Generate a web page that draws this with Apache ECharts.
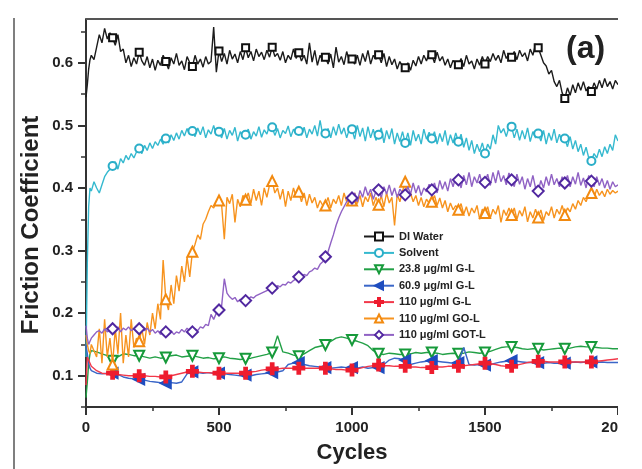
<!DOCTYPE html>
<html>
<head>
<meta charset="utf-8">
<script src="https://cdn.jsdelivr.net/npm/echarts@6/dist/echarts.min.js"></script>
<style>
html,body{margin:0;padding:0;background:#fff;}
#chart{width:642px;height:469px;}
</style>
</head>
<body>
<div id="chart"></div>
<script>
// ---- Data ----
const seriesNames = ['DI Water', 'Solvent', '23.8 μg/ml G-L', '60.9 μg/ml G-L', '110 μg/ml G-L', '110 μg/ml GO-L', '110 μg/ml GOT-L'];
const xTickValues = [0, 500, 1000, 1500, 2000];
const yTickLabels = [0.1, 0.2, 0.3, 0.4, 0.5, 0.6];
const yMinorTicks = [0.05, 0.15, 0.25, 0.35, 0.45, 0.55, 0.65];

// sampling grids (cycles): fine = 0,5,10,15,20,30,...,2000 ; coarse = 0,5,10,15,20,40,...,2000
const cyclesFine = [0, 5, 10, 15];
for (let c = 20; c <= 2000; c += 10) cyclesFine.push(c);
const cyclesCoarse = [0, 5, 10, 15];
for (let c = 20; c <= 2000; c += 20) cyclesCoarse.push(c);

const diWater = [
0.545,0.565,0.59,0.605,0.612,0.605,0.625,0.645,0.632,0.655,0.638,0.648,
0.640,0.628,0.645,0.618,0.622,0.600,0.612,0.594,0.608,0.598,
0.617,0.603,0.596,0.610,0.592,0.606,0.588,0.604,0.596,0.612,
0.602,0.590,0.608,0.598,0.615,0.596,0.603,0.589,0.610,0.600,
0.594,0.612,0.598,0.606,0.593,0.610,0.598,0.602,0.657,0.585,
0.619,0.602,0.615,0.598,0.620,0.606,0.614,0.600,0.618,0.605,
0.624,0.608,0.618,0.603,0.622,0.610,0.617,0.605,0.620,0.609,
0.625,0.610,0.615,0.604,0.618,0.600,0.612,0.605,0.622,0.607,
0.616,0.603,0.612,0.598,0.632,0.601,0.620,0.596,0.612,0.604,
0.609,0.598,0.614,0.592,0.625,0.601,0.610,0.597,0.618,0.603,
0.606,0.598,0.612,0.596,0.615,0.602,0.620,0.598,0.612,0.606,
0.613,0.600,0.615,0.594,0.610,0.597,0.606,0.590,0.602,0.594,
0.592,0.600,0.588,0.604,0.595,0.610,0.598,0.612,0.603,0.616,
0.613,0.600,0.617,0.603,0.610,0.596,0.606,0.592,0.604,0.598,
0.597,0.607,0.594,0.612,0.598,0.603,0.590,0.606,0.596,0.610,
0.598,0.610,0.602,0.615,0.604,0.612,0.600,0.620,0.607,0.614,
0.609,0.618,0.605,0.620,0.610,0.616,0.603,0.622,0.612,0.630,
0.624,0.612,0.600,0.595,0.582,0.588,0.570,0.562,0.572,0.552,
0.543,0.560,0.548,0.565,0.552,0.568,0.556,0.570,0.555,0.562,
0.554,0.568,0.558,0.572,0.560,0.575,0.562,0.570,0.558,0.572,
0.565];

const solvent = [
0.13,0.28,0.37,0.40,0.395,0.41,0.40,0.392,0.405,0.418,0.425,0.43,
0.435,0.442,0.430,0.447,0.440,0.452,0.445,0.455,0.448,0.458,
0.463,0.455,0.468,0.460,0.472,0.463,0.474,0.468,0.478,0.470,
0.479,0.472,0.485,0.476,0.488,0.478,0.492,0.483,0.495,0.485,
0.491,0.482,0.496,0.485,0.498,0.480,0.493,0.486,0.500,0.484,
0.490,0.480,0.495,0.478,0.492,0.484,0.497,0.475,0.490,0.482,
0.485,0.494,0.478,0.490,0.483,0.498,0.481,0.493,0.486,0.500,
0.497,0.484,0.495,0.480,0.492,0.487,0.499,0.482,0.494,0.486,
0.491,0.484,0.497,0.480,0.494,0.486,0.500,0.483,0.508,0.485,
0.487,0.495,0.480,0.498,0.484,0.502,0.486,0.496,0.480,0.494,
0.494,0.478,0.500,0.482,0.496,0.475,0.498,0.480,0.494,0.476,
0.485,0.496,0.472,0.492,0.478,0.495,0.470,0.488,0.474,0.490,
0.472,0.488,0.468,0.492,0.475,0.486,0.470,0.494,0.478,0.489,
0.479,0.490,0.470,0.487,0.474,0.492,0.468,0.485,0.472,0.488,
0.474,0.486,0.465,0.480,0.460,0.476,0.455,0.470,0.458,0.472,
0.455,0.470,0.462,0.485,0.470,0.500,0.488,0.495,0.482,0.497,
0.498,0.480,0.494,0.476,0.492,0.478,0.496,0.474,0.490,0.480,
0.487,0.475,0.492,0.470,0.488,0.476,0.494,0.472,0.486,0.474,
0.479,0.466,0.482,0.462,0.476,0.458,0.470,0.452,0.465,0.448,
0.443,0.455,0.448,0.462,0.450,0.466,0.455,0.470,0.460,0.485,
0.475];

const gl23 = [
0.065,0.09,0.12,0.135,0.14,0.138,0.135,0.132,
0.124,0.130,0.135,0.134,0.132,
0.132,0.130,0.128,0.130,0.128,
0.129,0.132,0.133,0.130,0.131,
0.132,0.130,0.128,0.129,0.127,
0.128,0.130,0.128,0.127,0.126,
0.127,0.128,0.130,0.132,0.134,
0.137,0.164,0.138,0.136,0.133,
0.131,0.135,0.140,0.145,0.147,
0.149,0.155,0.160,0.162,0.160,
0.157,0.155,0.152,0.148,0.140,
0.135,0.134,0.136,0.135,0.134,
0.134,0.135,0.137,0.136,0.137,
0.137,0.136,0.134,0.135,0.136,
0.135,0.136,0.138,0.137,0.136,
0.137,0.139,0.142,0.145,0.146,
0.146,0.145,0.143,0.142,0.143,
0.143,0.141,0.142,0.143,0.144,
0.143,0.144,0.146,0.147,0.146,
0.146,0.145,0.144,0.144,0.143,
0.143];

const gl60 = [
0.15,0.135,0.12,0.112,0.108,0.104,0.103,0.104,
0.104,0.102,0.098,0.096,0.095,
0.094,0.093,0.091,0.090,0.089,
0.088,0.089,0.088,0.090,0.103,
0.106,0.105,0.104,0.105,0.104,
0.104,0.103,0.102,0.101,0.100,
0.101,0.100,0.102,0.103,0.104,
0.105,0.106,0.108,0.118,0.120,
0.121,0.118,0.116,0.115,0.114,
0.113,0.112,0.113,0.114,0.113,
0.113,0.112,0.114,0.112,0.113,
0.113,0.118,0.125,0.128,0.127,
0.125,0.118,0.120,0.122,0.123,
0.124,0.123,0.122,0.121,0.120,
0.121,0.145,0.118,0.117,0.118,
0.117,0.118,0.120,0.122,0.123,
0.124,0.123,0.122,0.121,0.121,
0.121,0.120,0.121,0.120,0.120,
0.120,0.121,0.122,0.121,0.122,
0.122,0.121,0.122,0.121,0.121,
0.121];

const gl110 = [
0.085,0.13,0.125,0.12,0.115,0.108,0.104,0.103,
0.104,0.102,0.101,0.100,0.100,
0.100,0.100,0.099,0.099,0.098,
0.098,0.100,0.102,0.104,0.106,
0.107,0.106,0.105,0.105,0.104,
0.104,0.104,0.104,0.104,0.104,
0.104,0.106,0.107,0.109,0.110,
0.111,0.111,0.112,0.112,0.112,
0.112,0.112,0.112,0.112,0.112,
0.112,0.111,0.110,0.110,0.109,
0.109,0.111,0.113,0.115,0.116,
0.117,0.116,0.116,0.115,0.115,
0.115,0.114,0.114,0.113,0.113,
0.113,0.114,0.114,0.115,0.115,
0.115,0.116,0.117,0.118,0.119,
0.120,0.119,0.118,0.116,0.115,
0.115,0.117,0.119,0.121,0.122,
0.123,0.123,0.122,0.122,0.122,
0.122,0.122,0.122,0.122,0.122,
0.122,0.123,0.124,0.125,0.126,
0.127];

const gol110 = [
0.165,0.15,0.14,0.135,0.15,0.14,0.13,0.175,0.12,0.19,0.13,0.16,
0.118,0.175,0.135,0.20,0.12,0.165,0.13,0.19,0.145,0.16,
0.155,0.175,0.150,0.185,0.165,0.20,0.175,0.215,0.190,0.285,
0.222,0.205,0.245,0.215,0.260,0.235,0.275,0.250,0.290,0.258,
0.298,0.31,0.325,0.318,0.342,0.350,0.362,0.372,0.368,0.378,
0.380,0.372,0.318,0.385,0.375,0.390,0.345,0.382,0.370,0.388,
0.381,0.392,0.375,0.398,0.380,0.395,0.372,0.400,0.385,0.405,
0.411,0.392,0.400,0.382,0.398,0.370,0.395,0.380,0.400,0.386,
0.394,0.378,0.392,0.372,0.390,0.376,0.385,0.368,0.380,0.372,
0.372,0.385,0.368,0.382,0.375,0.388,0.372,0.392,0.378,0.386,
0.380,0.392,0.375,0.388,0.370,0.386,0.378,0.392,0.372,0.385,
0.373,0.388,0.370,0.392,0.376,0.385,0.340,0.390,0.378,0.395,
0.410,0.385,0.392,0.378,0.388,0.372,0.385,0.370,0.382,0.376,
0.378,0.388,0.372,0.384,0.368,0.380,0.362,0.376,0.365,0.372,
0.365,0.375,0.358,0.370,0.355,0.368,0.360,0.372,0.350,0.366,
0.360,0.370,0.352,0.366,0.358,0.372,0.345,0.365,0.356,0.368,
0.357,0.368,0.350,0.364,0.355,0.370,0.346,0.362,0.352,0.366,
0.353,0.365,0.348,0.362,0.356,0.370,0.352,0.366,0.358,0.372,
0.357,0.368,0.362,0.375,0.366,0.380,0.372,0.385,0.378,0.390,
0.392,0.385,0.398,0.388,0.395,0.386,0.398,0.390,0.396,0.392,
0.395];

const gotl110 = [
0.18,0.16,0.15,0.155,0.16,0.165,0.17,0.172,0.168,0.175,0.17,0.173,
0.175,0.172,0.178,0.170,0.176,0.173,0.178,0.172,0.175,0.176,
0.175,0.178,0.172,0.176,0.170,0.174,0.168,0.172,0.166,0.170,
0.170,0.168,0.172,0.166,0.170,0.168,0.174,0.170,0.176,0.172,
0.170,0.175,0.172,0.178,0.176,0.182,0.180,0.198,0.190,0.200,
0.205,0.212,0.255,0.232,0.226,0.222,0.225,0.218,0.222,0.220,
0.220,0.222,0.226,0.224,0.228,0.230,0.232,0.234,0.236,0.238,
0.240,0.238,0.244,0.242,0.246,0.245,0.250,0.248,0.252,0.255,
0.258,0.256,0.262,0.260,0.266,0.268,0.272,0.270,0.278,0.282,
0.290,0.298,0.312,0.325,0.340,0.352,0.362,0.370,0.378,0.382,
0.384,0.392,0.378,0.396,0.385,0.402,0.388,0.398,0.382,0.395,
0.397,0.385,0.402,0.390,0.405,0.388,0.400,0.385,0.398,0.392,
0.389,0.402,0.390,0.408,0.392,0.404,0.388,0.400,0.394,0.406,
0.397,0.408,0.392,0.412,0.398,0.410,0.395,0.415,0.402,0.418,
0.413,0.400,0.420,0.405,0.425,0.402,0.418,0.408,0.422,0.405,
0.409,0.422,0.404,0.425,0.408,0.428,0.410,0.420,0.405,0.424,
0.413,0.402,0.422,0.406,0.418,0.398,0.415,0.402,0.420,0.400,
0.395,0.412,0.400,0.418,0.404,0.422,0.405,0.415,0.402,0.418,
0.408,0.420,0.402,0.418,0.406,0.425,0.404,0.416,0.400,0.420,
0.411,0.402,0.418,0.404,0.415,0.400,0.412,0.398,0.410,0.402,
0.405];

// ---- Build chart ----
function pairs(xs, ys) { return ys.map((y, i) => [xs[i], y]); }
function markerSize(sz) {
  return function (val) {
    const c = val[0];
    return (c > 0 && c < 2000 && c % 100 === 0) ? sz : 0;
  };
}
const FONT = '"Liberation Sans", Arial, sans-serif';

const specs = [
  { data: pairs(cyclesFine, diWater), color: '#1c1c1c', mcolor: '#111', symbol: 'emptyRect', size: 7, rotate: 0 },
  { data: pairs(cyclesFine, solvent), color: '#35b9cf', mcolor: '#2aaec8', symbol: 'emptyCircle', size: 8, rotate: 0 },
  { data: pairs(cyclesCoarse, gl23), color: '#22a046', mcolor: '#169a3a', symbol: 'emptyTriangle', size: 10, rotate: 180 },
  { data: pairs(cyclesCoarse, gl60), color: '#3a66c8', mcolor: '#1f4dbf', symbol: 'triangle', size: 10, rotate: 90 },
  { data: pairs(cyclesCoarse, gl110), color: '#f2384a', mcolor: '#ee1c2e', symbol: 'path://M3,0H5V3H8V5H5V8H3V5H0V3H3Z', size: 11, rotate: 0 },
  { data: pairs(cyclesFine, gol110), color: '#f7931e', mcolor: '#f28a10', symbol: 'emptyTriangle', size: 10, rotate: 0 },
  { data: pairs(cyclesFine, gotl110), color: '#9062c4', mcolor: '#5128a0', symbol: 'emptyDiamond', size: 11, rotate: 0 }
];

const series = specs.map((s, i) => ({
  name: seriesNames[i],
  type: 'line',
  data: s.data,
  showSymbol: true,
  showAllSymbol: true,
  symbol: s.symbol,
  symbolRotate: s.rotate,
  symbolSize: markerSize(s.size),
  lineStyle: { color: s.color, width: 1.4 },
  itemStyle: { color: s.mcolor, borderColor: s.mcolor, borderWidth: 2 },
  emphasis: { disabled: true },
  z: 2 + i
}));

const chart = echarts.init(document.getElementById('chart'), null, { renderer: 'canvas' });
chart.setOption({
  animation: false,
  backgroundColor: '#ffffff',
  grid: { left: 86, top: 19, right: 24, bottom: 56, containLabel: false },
  legend: {
    orient: 'vertical',
    left: 358,
    top: 226,
    itemWidth: 30,
    itemHeight: 10,
    itemGap: 5.4,
    data: seriesNames,
    textStyle: { fontFamily: FONT, fontWeight: 'bold', fontSize: 11, color: '#222' }
  },
  xAxis: {
    type: 'value',
    min: 0, max: 2000, interval: 500,
    name: 'Cycles',
    nameLocation: 'middle',
    nameGap: 35,
    nameTextStyle: { fontFamily: FONT, fontWeight: 'bold', fontSize: 22, color: '#222' },
    axisLine: { show: true, onZero: false, lineStyle: { color: '#333', width: 2 } },
    axisTick: { show: true, inside: false, length: 8, lineStyle: { color: '#333', width: 2 } },
    minorTick: { show: true, splitNumber: 2, length: 4, lineStyle: { color: '#333', width: 1.5 } },
    axisLabel: { margin: 13, fontFamily: FONT, fontWeight: 'bold', fontSize: 15, color: '#222',
      customValues: xTickValues, formatter: v => String(v) },
    splitLine: { show: false }
  },
  yAxis: [{
    type: 'value',
    min: 0.05, max: 0.67,
    axisLine: { show: true, onZero: false, lineStyle: { color: '#333', width: 2 } },
    axisTick: { show: true, inside: false, length: 8, lineStyle: { color: '#333', width: 2 }, customValues: yTickLabels },
    axisLabel: { margin: 13, fontFamily: FONT, fontWeight: 'bold', fontSize: 15, color: '#222',
      customValues: yTickLabels, formatter: v => v.toFixed(1) },
    splitLine: { show: false }
  }, {
    type: 'value',
    position: 'left',
    min: 0.05, max: 0.67,
    axisLine: { show: false },
    axisTick: { show: true, inside: false, length: 5, lineStyle: { color: '#333', width: 1.5 }, customValues: yMinorTicks },
    axisLabel: { show: false, customValues: yMinorTicks },
    splitLine: { show: false }
  }],
  graphic: [
    { type: 'line', shape: { x1: 86, y1: 19, x2: 620, y2: 19 }, style: { stroke: '#555', lineWidth: 2 }, z: 50 },
    { type: 'line', shape: { x1: 14, y1: 18, x2: 14, y2: 469 }, style: { stroke: '#555', lineWidth: 1.5 }, z: 50 },
    { type: 'rect', shape: { x: 618, y: 0, width: 30, height: 469 }, style: { fill: '#ffffff' }, z: 100 },
    { type: 'text', left: 566, top: 33, style: { text: '(a)', fontFamily: FONT, fontWeight: 'bold', fontSize: 32, fill: '#222' }, z: 60 },
    { type: 'text', x: 31, y: 225, rotation: Math.PI / 2,
      style: { text: 'Friction Coefficient', fontFamily: FONT, fontWeight: 'bold', fontSize: 24, fill: '#222',
        align: 'center', verticalAlign: 'middle' }, z: 60 }
  ],
  series: series
});
</script>
</body>
</html>
